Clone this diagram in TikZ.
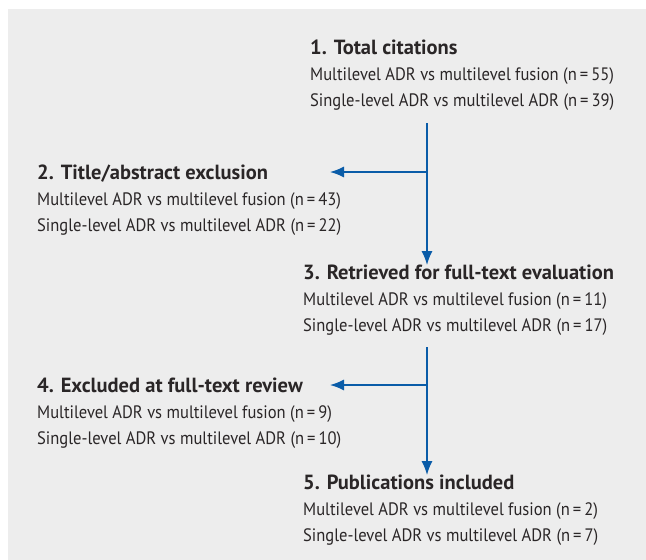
\documentclass[tikz,border=0pt]{standalone}
\usepackage{fontspec}
\setmainfont{PT Sans}[FakeStretch=0.92]
\newfontfamily\headfont{PT Sans}[FakeStretch=1.0]
\usetikzlibrary{arrows.meta, positioning}
\definecolor{flowblue}{HTML}{0A5CA8}
\definecolor{panelgray}{HTML}{EDEDED}
\definecolor{inkgray}{HTML}{2A2627}
\newcommand{\stagehead}[1]{{\headfont\bfseries\fontsize{20.5}{26}\selectfont #1}}

\begin{document}
\begin{tikzpicture}[x=1pt, y=-1pt,
    stage/.style={anchor=north west, inner sep=0pt, align=left, text=inkgray,
                  font=\fontsize{18}{26}\selectfont},
    flow/.style={draw=flowblue, line width=1.4pt, -{Latex[length=14pt,width=11pt]}}]
            \useasboundingbox (0,0) rectangle (646,560);
            \fill[panelgray] (8,9) rectangle (646,560);

            % stages of the selection
            \node[stage] (total) at (310,40)
                {\stagehead{1. Total citations}\\
                 Multilevel ADR vs multilevel fusion (n\,=\,55)\\
                 Single-level ADR vs multilevel ADR (n\,=\,39)};
            \node[stage] (screened) at (37,165)
                {\stagehead{2. Title/abstract exclusion}\\
                 Multilevel ADR vs multilevel fusion (n\,=\,43)\\
                 Single-level ADR vs multilevel ADR (n\,=\,22)};
            \node[stage] (retrieved) at (303,265)
                {\stagehead{3. Retrieved for full-text evaluation}\\
                 Multilevel ADR vs multilevel fusion (n\,=\,11)\\
                 Single-level ADR vs multilevel ADR (n\,=\,17)};
            \node[stage] (excluded) at (37,378)
                {\stagehead{4. Excluded at full-text review}\\
                 Multilevel ADR vs multilevel fusion (n\,=\,9)\\
                 Single-level ADR vs multilevel ADR (n\,=\,10)};
            \node[stage] (included) at (303,475)
                {\stagehead{5. Publications included}\\
                 Multilevel ADR vs multilevel fusion (n\,=\,2)\\
                 Single-level ADR vs multilevel ADR (n\,=\,7)};

            % connectors
            \coordinate (top1) at (427,123);
            \coordinate (fork1) at (427,172);
            \coordinate (top2) at (427,347);
            \coordinate (fork2) at (427,385);
            \draw[flow] (top1) -- (top1 |- retrieved.north);
            \draw[flow] (fork1) -- (330,172);
            \draw[flow] (top2) -- (top2 |- included.north);
            \draw[flow] (fork2) -- (330,385);
\end{tikzpicture}
\end{document}
